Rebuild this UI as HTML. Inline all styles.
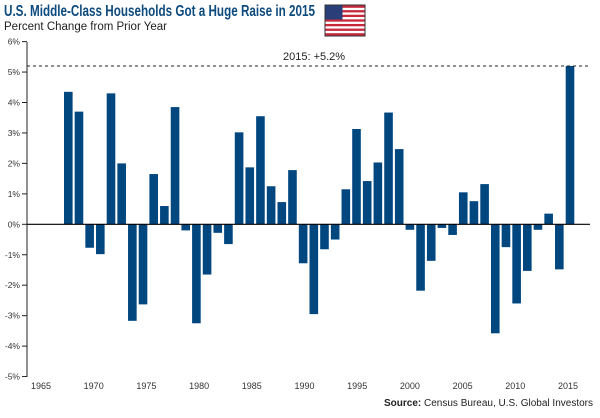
<!DOCTYPE html>
<html><head><meta charset="utf-8"><style>
body{margin:0;background:#fff;font-family:"Liberation Sans",sans-serif;}
svg text{font-family:"Liberation Sans",sans-serif;}
</style></head><body>
<svg width="600" height="413" viewBox="0 0 600 413">
<text x="4" y="16" font-size="15.5" font-weight="bold" fill="#0d4a7e" textLength="311" lengthAdjust="spacingAndGlyphs">U.S. Middle-Class Households Got a Huge Raise in 2015</text>
<text x="4" y="30" font-size="11.5" fill="#222">Percent Change from Prior Year</text>
<g>
<rect x="325" y="5" width="40" height="31" fill="#fff" stroke="#333" stroke-width="1"/>
<g id="stripes"></g>
<rect x="325.5" y="5.5" width="17" height="14" fill="#2a3f7a"/>
</g>
<g id="grid"></g>
<line x1="27" y1="42" x2="27" y2="377" stroke="#222" stroke-width="1"/>
<g id="bars"></g>
<line x1="27" y1="224.3" x2="590" y2="224.3" stroke="#000" stroke-width="1.2"/>
<line x1="27" y1="66" x2="590" y2="66" stroke="#222" stroke-width="1" stroke-dasharray="3,3"/>
<text x="283" y="60" font-size="11" fill="#222">2015: +5.2%</text>
<text x="593" y="406" font-size="10" fill="#222" text-anchor="end"><tspan font-weight="bold">Source:</tspan> Census Bureau, U.S. Global Investors</text>
</svg>
<script>
const years=[1968,1969,1970,1971,1972,1973,1974,1975,1976,1977,1978,1979,1980,1981,1982,1983,1984,1985,1986,1987,1988,1989,1990,1991,1992,1993,1994,1995,1996,1997,1998,1999,2000,2001,2002,2003,2004,2005,2006,2007,2008,2009,2010,2011,2012,2013,2014,2015];
const values=[4.35,3.7,-0.77,-0.98,4.3,2.0,-3.17,-2.63,1.65,0.6,3.85,-0.2,-3.25,-1.65,-0.28,-0.65,3.02,1.87,3.55,1.25,0.73,1.78,-1.28,-2.95,-0.82,-0.5,1.15,3.13,1.42,2.03,3.67,2.47,-0.18,-2.18,-1.2,-0.12,-0.35,1.05,0.76,1.32,-3.58,-0.75,-2.6,-1.53,-0.18,0.35,-1.48,5.2];
const yTicks=[6,5,4,3,2,1,0,-1,-2,-3,-4,-5];
const xTicks=[1965,1970,1975,1980,1985,1990,1995,2000,2005,2010,2015];
const NS="http://www.w3.org/2000/svg";
const y=v=>224.3-v*30.45;
const xb=yr=>68.3+(yr-1968)*(501.7/47);
const xt=yr=>41+(yr-1965)*10.54;
const g=document.getElementById('grid'),b=document.getElementById('bars'),st=document.getElementById('stripes');
for(let i=0;i<13;i++){if(i%2==0){const r=document.createElementNS(NS,'rect');r.setAttribute('x',325.5);r.setAttribute('y',5.5+i*30/13);r.setAttribute('width',39);r.setAttribute('height',30/13);r.setAttribute('fill','#c8283c');st.appendChild(r);}}
yTicks.forEach(v=>{
 const l=document.createElementNS(NS,'line');l.setAttribute('x1',22);l.setAttribute('x2',27);l.setAttribute('y1',y(v));l.setAttribute('y2',y(v));l.setAttribute('stroke','#222');
 
 g.appendChild(l);
 const t=document.createElementNS(NS,'text');t.setAttribute('x',20);t.setAttribute('y',y(v)+3);t.setAttribute('font-size','8.5');t.setAttribute('text-anchor','end');t.setAttribute('fill','#333');t.textContent=v+'%';
 
 g.appendChild(t);
});
xTicks.forEach(v=>{
 const t=document.createElementNS(NS,'text');t.setAttribute('x',xt(v));t.setAttribute('y',389);t.setAttribute('font-size','9');t.setAttribute('text-anchor','middle');t.setAttribute('fill','#333');t.textContent=v;
 
 g.appendChild(t);
});
years.forEach((yr,i)=>{
 const v=values[i];const r=document.createElementNS(NS,'rect');
 r.setAttribute('x',xb(yr)-4.3);r.setAttribute('width',8.6);
 r.setAttribute('y',Math.min(y(v),y(0)));r.setAttribute('height',Math.abs(y(v)-y(0)));
 r.setAttribute('fill','#00467f');
 
 
 b.appendChild(r);
});
</script>
</body></html>
